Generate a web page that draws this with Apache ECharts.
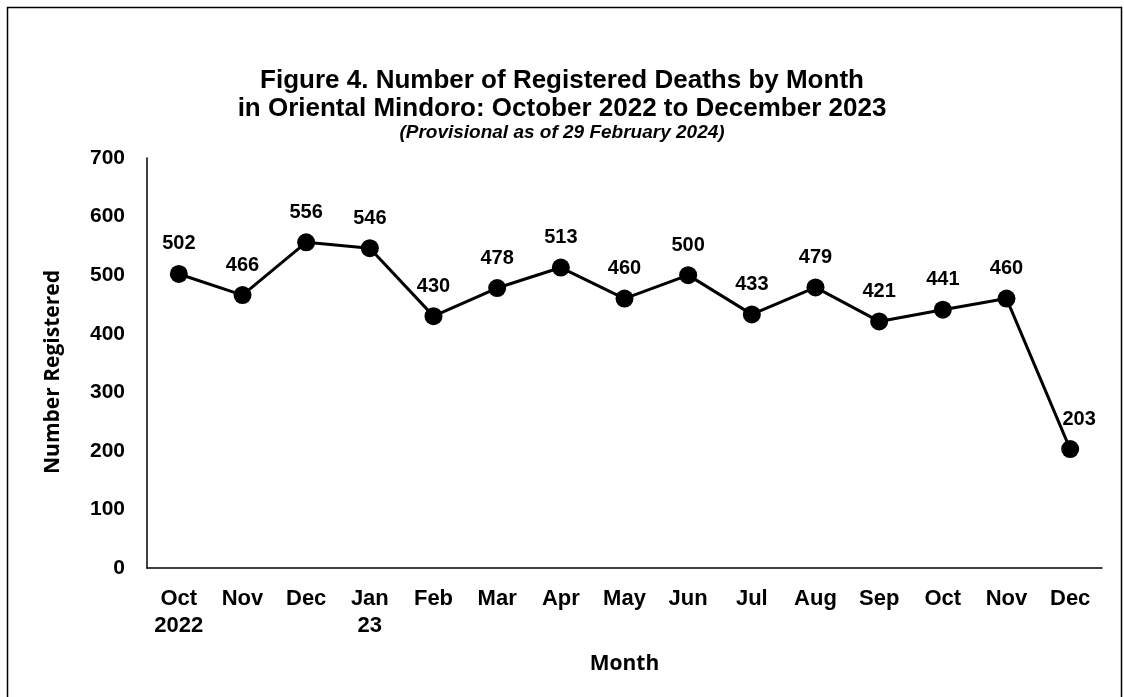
<!DOCTYPE html>
<html>
<head>
<meta charset="utf-8">
<script src="https://cdn.jsdelivr.net/npm/echarts@6/dist/echarts.min.js"></script>
<style>
html,body{margin:0;padding:0;background:#fff;}
#c{width:1124px;height:697px;}
</style>
</head>
<body>
<div id="c"></div>
<script>
const categories = ['Oct\n2022','Nov','Dec','Jan\n23','Feb','Mar','Apr','May','Jun','Jul','Aug','Sep','Oct','Nov','Dec'];
const deaths = [502,466,556,546,430,478,513,460,500,433,479,421,441,460,203];
const yTicks = [0,100,200,300,400,500,600,700];

const font = 'Liberation Sans, Arial, sans-serif';
const font2 = 'Open Sans, Noto Sans, sans-serif';
const chart = echarts.init(document.getElementById('c'));
chart.setOption({
  backgroundColor: '#fff',
  animation: false,
  graphic: [{
    type: 'rect', left: 5, top: 5,
    shape: {width: 1114, height: 700},
    style: {fill: 'none', stroke: '#000', lineWidth: 1.5}
  }],
  title: [{
    text: 'Figure 4. Number of Registered Deaths by Month\nin Oriental Mindoro: October 2022 to December 2023',
    left: 'center', top: 67,
    padding: 0,
    textStyle: {fontFamily: font, fontSize: 26, fontWeight: 'bold', color: '#000', lineHeight: 28}
  },{
    text: '(Provisional as of 29 February 2024)',
    left: 'center', top: 123,
    padding: 0,
    textStyle: {fontFamily: font, fontSize: 19, fontWeight: 'bold', fontStyle: 'italic', color: '#000'}
  }],
  grid: {left: 147, right: 22, top: 158, bottom: 129, containLabel: false},
  xAxis: {
    type: 'category',
    data: categories,
    boundaryGap: true,
    name: 'Month',
    nameLocation: 'middle',
    nameGap: 86,
    nameTextStyle: {fontFamily: font2, fontSize: 21, fontWeight: 'bold', color: '#000'},
    axisLine: {lineStyle: {color: '#000', width: 1.5}},
    axisTick: {show: false},
    axisLabel: {fontFamily: font, fontSize: 22, fontWeight: 'bold', color: '#000', margin: 17, lineHeight: 27, interval: 0}
  },
  yAxis: {
    type: 'value',
    min: 0, max: 700, interval: 100,
    name: 'Number Registered',
    nameLocation: 'middle',
    nameGap: 83,
    nameRotate: 90,
    nameTextStyle: {fontFamily: font2, fontSize: 21, fontWeight: 'bold', color: '#000', padding: [0, 18, 0, 0]},
    axisLine: {show: true, lineStyle: {color: '#000', width: 1.5}},
    axisTick: {show: false},
    splitLine: {show: false},
    axisLabel: {fontFamily: font, fontSize: 21, fontWeight: 'bold', color: '#000', margin: 22,
      formatter: v => yTicks.includes(v) ? String(v) : ''}
  },
  series: [{
    type: 'line',
    data: deaths.map((v, i) => i === deaths.length - 1
      ? {value: v, label: {offset: [9, 0]}}
      : v),
    symbol: 'circle',
    symbolSize: 18,
    lineStyle: {color: '#000', width: 3},
    itemStyle: {color: '#000'},
    label: {show: true, position: 'top', distance: 11, fontFamily: font, fontSize: 20, fontWeight: 'bold', color: '#000'}
  }]
});
</script>
</body>
</html>
